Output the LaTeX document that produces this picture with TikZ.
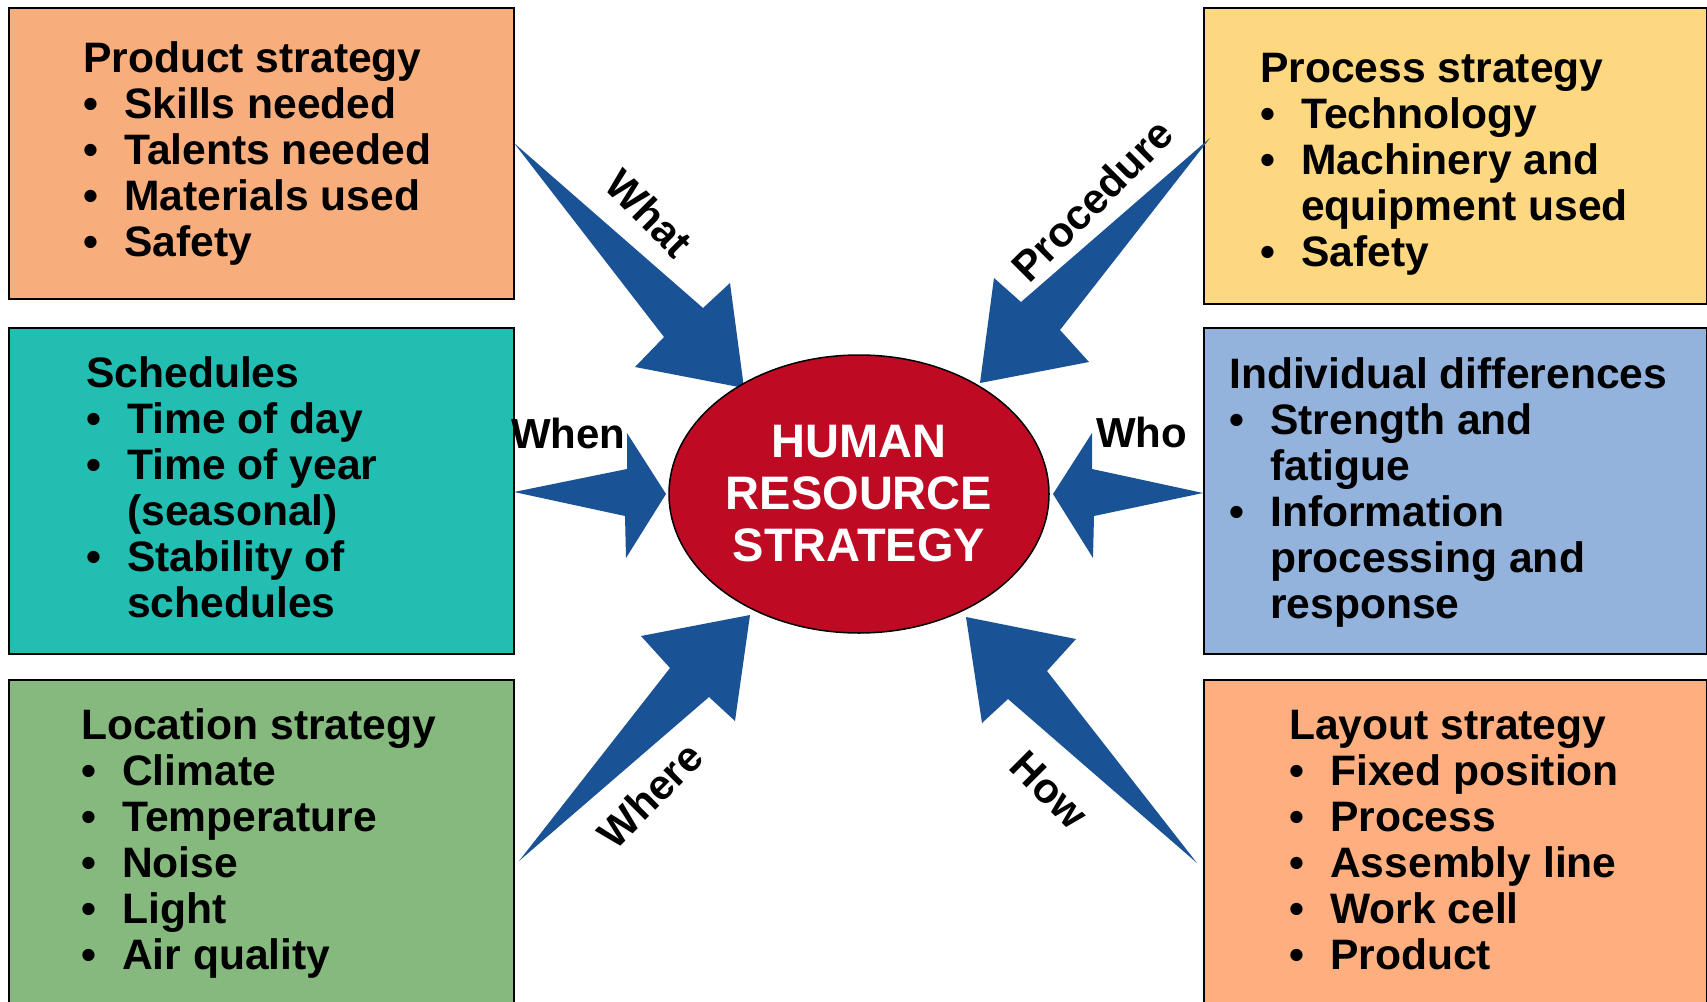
\documentclass[tikz,border=0pt]{standalone}
\usepackage{fontspec}
\setmainfont{Liberation Sans}
\usetikzlibrary{shapes.geometric}

\definecolor{productfill}{RGB}{248,174,124}
\definecolor{processfill}{RGB}{254,216,129}
\definecolor{schedfill}{RGB}{35,190,178}
\definecolor{indivfill}{RGB}{147,179,220}
\definecolor{locfill}{RGB}{134,185,126}
\definecolor{layoutfill}{RGB}{255,175,127}
\definecolor{arrowblue}{RGB}{26,82,150}
\definecolor{hrred}{RGB}{190,10,35}

% bullet list helpers
\newlength{\bulw}
\setlength{\bulw}{41pt}
\newcommand{\itm}[1]{\makebox[\bulw][l]{\textbullet}#1}
\newcommand{\cnt}[1]{\hspace*{\bulw}#1}
\newcommand{\blist}[1]{\begin{tabular}[t]{@{}l@{}}#1\end{tabular}}

\begin{document}
\begin{tikzpicture}[x=1pt,y=-1pt,
  panel/.style={draw=black,line width=1.5pt,anchor=north west,inner sep=0pt},
  txt/.style={font=\fontsize{42.6}{46}\selectfont\bfseries,inner sep=0pt,anchor=base west},
  cue/.style={font=\fontsize{42}{46}\selectfont\bfseries,inner sep=0pt},
  spear/.style={fill=arrowblue}]
\useasboundingbox (0,0) rectangle (1707,1001);
\clip (0,0) rectangle (1707,1001);
\fill[white] (0,0) rectangle (1707,1001);

% coloured panels
\node[panel,fill=productfill,minimum width=505,minimum height=291] (product) at (8,7) {};
\node[panel,fill=processfill,minimum width=503,minimum height=296] (process) at (1203,7) {};
\node[panel,fill=schedfill,minimum width=505,minimum height=326] (sched) at (8,327) {};
\node[panel,fill=indivfill,minimum width=503,minimum height=326] (indiv) at (1203,327) {};
\node[panel,fill=locfill,minimum width=505,minimum height=341] (loc) at (8,679) {};
\node[panel,fill=layoutfill,minimum width=503,minimum height=341] (layout) at (1203,679) {};

% panel texts
\node[txt] (productT) at (83,72) {\blist{Product strategy\\ \itm{Skills needed}\\ \itm{Talents needed}\\ \itm{Materials used}\\ \itm{Safety}}};
\node[txt] (processT) at (1260,82) {\blist{Process strategy\\ \itm{Technology}\\ \itm{Machinery and}\\ \cnt{equipment used}\\ \itm{Safety}}};
\node[txt] (schedT) at (86,387) {\blist{Schedules\\ \itm{Time of day}\\ \itm{Time of year}\\ \cnt{(seasonal)}\\ \itm{Stability of}\\ \cnt{schedules}}};
\node[txt] (indivT) at (1229,388) {\blist{Individual differences\\ \itm{Strength and}\\ \cnt{fatigue}\\ \itm{Information}\\ \cnt{processing and}\\ \cnt{response}}};
\node[txt] (locT) at (81,739) {\blist{Location strategy\\ \itm{Climate}\\ \itm{Temperature}\\ \itm{Noise}\\ \itm{Light}\\ \itm{Air quality}}};
\node[txt] (layoutT) at (1289,739) {\blist{Layout strategy\\ \itm{Fixed position}\\ \itm{Process}\\ \itm{Assembly line}\\ \itm{Work cell}\\ \itm{Product}}};

% arrows pointing at the centre
\fill[spear] (514,143) coordinate (whatTail) -- (703,308) -- (730,283) -- (744,388) coordinate (whatTip) -- (635,367) -- (664,337) -- cycle;
\fill[spear] (1210,138) coordinate (procTail) -- (1060,330) -- (1089,362) -- (980,383) coordinate (procTip) -- (994,278) -- (1021,302) -- cycle;
\fill[spear] (514,492) coordinate (whenTail) -- (627,469) -- (627,433) -- (666,494) coordinate (whenTip) -- (626,558) -- (625,516) -- cycle;
\fill[spear] (1203,493) coordinate (whoTail) -- (1092,469) -- (1092,433) -- (1053,494) coordinate (whoTip) -- (1093,558) -- (1094,516) -- cycle;
\fill[spear] (519,861) coordinate (whereTail) -- (709,697) -- (735,721) -- (750,615) coordinate (whereTip) -- (641,636) -- (670,668) -- cycle;
\fill[spear] (1197,863) coordinate (howTail) -- (1008,699) -- (982,723) -- (966,617) coordinate (howTip) -- (1076,639) -- (1047,671) -- cycle;

% centre ellipse
\node[ellipse,draw=black,line width=1.5pt,fill=hrred,minimum width=380,minimum height=278,inner sep=0pt,
      text=white,align=center,font=\fontsize{47}{52}\selectfont\bfseries] (hrs) at (859,494)
      {HUMAN\\RESOURCE\\STRATEGY};

% arrow captions
\node[cue,rotate=-45] (what) at (649,213) {What};
\node[cue,rotate=45] (procedure) at (1092,200) {Procedure};
\node[cue,anchor=base west] (when) at (511,448) {When};
\node[cue,anchor=base west] (who) at (1096,447) {Who};
\node[cue,rotate=45] (where) at (650,795) {Where};
\node[cue,rotate=-45] (how) at (1049,790) {How};
\end{tikzpicture}
\end{document}
